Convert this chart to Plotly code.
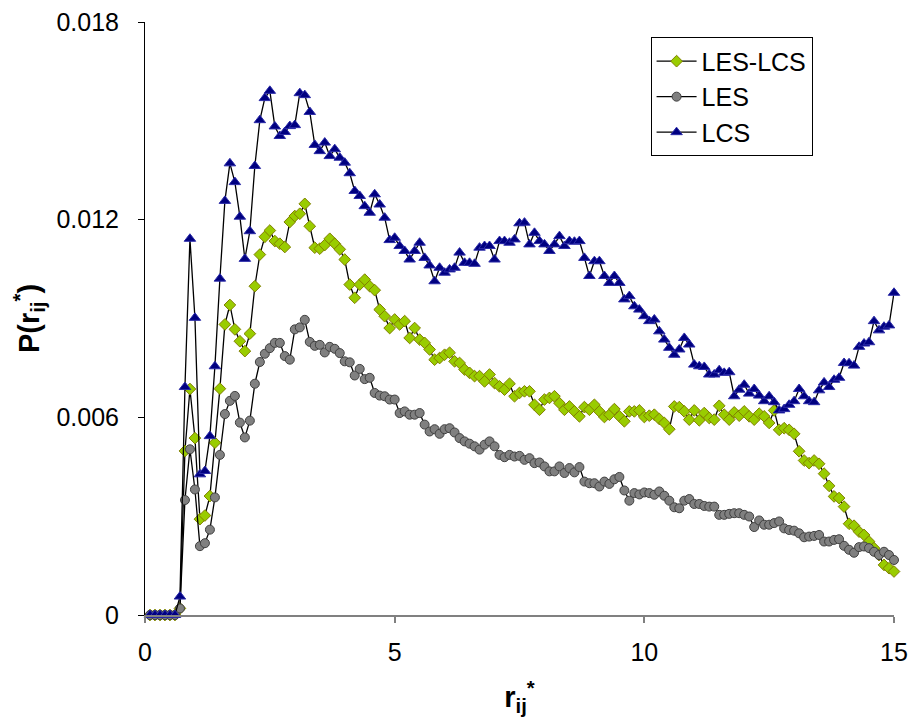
import plotly.graph_objects as go

x_vals = [round(0.1 * (i + 1), 1) for i in range(150)]

les_lcs = [0, 0, 0, 0, 0, 0, 0.0002, 0.00498, 0.00686, 0.00537,
           0.00291, 0.00302, 0.00361, 0.00523, 0.00687, 0.00882, 0.00941, 0.00867, 0.00831, 0.00801,
           0.00854, 0.00998, 0.01094, 0.01148, 0.01167, 0.01135, 0.01127, 0.01117, 0.01193, 0.01211,
           0.01218, 0.01248, 0.0118, 0.01115, 0.01112, 0.01123, 0.01142, 0.01127, 0.0111, 0.01079,
           0.01003, 0.00963, 0.01003, 0.01018, 0.00998, 0.00986, 0.00927, 0.00907, 0.00871, 0.00897,
           0.00882, 0.00892, 0.00841, 0.00871, 0.00836, 0.00826, 0.00806, 0.00775, 0.0078, 0.0079,
           0.00796, 0.0077, 0.00765, 0.00745, 0.00735, 0.00725, 0.00725, 0.00709, 0.0073, 0.00704,
           0.00694, 0.00684, 0.00702, 0.00664, 0.00674, 0.00679, 0.00679, 0.00638, 0.00623, 0.00654,
           0.00659, 0.00664, 0.00643, 0.00623, 0.00633, 0.00618, 0.00603, 0.00631, 0.00623, 0.00638,
           0.00618, 0.00601, 0.00608, 0.00625, 0.00603, 0.00588, 0.00618, 0.00618, 0.00621, 0.00601,
           0.00605, 0.00608, 0.00595, 0.00583, 0.00564, 0.00633, 0.00631, 0.00618, 0.00593, 0.00621,
           0.00591, 0.00613, 0.00598, 0.00593, 0.00635, 0.00608, 0.00593, 0.00615, 0.00605, 0.00618,
           0.00603, 0.00593, 0.00611, 0.00603, 0.00583, 0.00621, 0.00562, 0.00567, 0.00562, 0.0055,
           0.00497, 0.00469, 0.00461, 0.00469, 0.00459, 0.00429, 0.00392, 0.0036, 0.00355, 0.00329,
           0.00277, 0.00271, 0.00253, 0.00243, 0.00223, 0.00203, 0.00182, 0.00152, 0.00142, 0.00132]

les = [0, 0, 0, 0, 0, 0, 0.0002, 0.00349, 0.00503, 0.00381,
       0.00209, 0.00218, 0.00259, 0.00357, 0.00486, 0.0061, 0.0065, 0.00665, 0.00584, 0.00539,
       0.0059, 0.00702, 0.00768, 0.00793, 0.0081, 0.00826, 0.00826, 0.00786, 0.00775, 0.00867,
       0.00873, 0.00896, 0.00829, 0.00817, 0.0082, 0.00797, 0.00814, 0.00808, 0.00795, 0.0077,
       0.00767, 0.00727, 0.00747, 0.00716, 0.0072, 0.00674, 0.00666, 0.00664, 0.00654, 0.00654,
       0.00613, 0.00618, 0.00608, 0.00608, 0.00613, 0.00578, 0.00557, 0.00564, 0.0055, 0.00564,
       0.00567, 0.00554, 0.00537, 0.00527, 0.0052, 0.00512, 0.00502, 0.00517, 0.00527, 0.00512,
       0.00486, 0.00479, 0.00486, 0.00481, 0.00483, 0.00471, 0.00476, 0.00461, 0.00463, 0.00451,
       0.00436, 0.00436, 0.00451, 0.00431, 0.00446, 0.00433, 0.00449, 0.00405, 0.004, 0.004,
       0.0039, 0.00405, 0.00398, 0.00412, 0.00419, 0.00378, 0.00347, 0.0037, 0.00366, 0.00372,
       0.0037, 0.00365, 0.00375, 0.00362, 0.00347, 0.00327, 0.00324, 0.00347, 0.00352, 0.00337,
       0.00337, 0.00331, 0.00329, 0.00329, 0.00304, 0.00304, 0.00307, 0.00309, 0.00309, 0.00304,
       0.00299, 0.00267, 0.00287, 0.00274, 0.00274, 0.00279, 0.00284, 0.00263, 0.00258, 0.00256,
       0.00248, 0.00236, 0.00238, 0.0024, 0.00243, 0.00223, 0.00223, 0.00228, 0.0023, 0.0021,
       0.00198, 0.00189, 0.00206, 0.00208, 0.00203, 0.00192, 0.00182, 0.00192, 0.00182, 0.00167]

lcs = [0, 0, 0, 0, 0, 0, 0.00056, 0.00692, 0.01142, 0.00902,
       0.00427, 0.00437, 0.00543, 0.00755, 0.01021, 0.01257, 0.01371, 0.01314, 0.01209, 0.01081,
       0.01165, 0.01363, 0.01502, 0.01569, 0.01591, 0.01483, 0.01454, 0.01466, 0.01484, 0.01487,
       0.01584, 0.01578, 0.01527, 0.01427, 0.01408, 0.01434, 0.01393, 0.01414, 0.01388, 0.01373,
       0.01341, 0.01287, 0.01272, 0.01241, 0.01221, 0.01277, 0.01246, 0.01206, 0.01138, 0.01145,
       0.0112, 0.01105, 0.01079, 0.01105, 0.0113, 0.01084, 0.01061, 0.01013, 0.01054, 0.01039,
       0.01049, 0.01054, 0.011, 0.01069, 0.01069, 0.01066, 0.01115, 0.0112, 0.0112, 0.01079,
       0.01135, 0.01135, 0.0113, 0.0114, 0.01189, 0.01191, 0.01125, 0.0116, 0.01135, 0.01125,
       0.01105, 0.01125, 0.0115, 0.0112, 0.01135, 0.01133, 0.01135, 0.01084, 0.01029, 0.01074,
       0.01074, 0.01029, 0.01008, 0.01029, 0.01008, 0.00958, 0.00968, 0.00937, 0.00927, 0.00907,
       0.00892, 0.00897, 0.00861, 0.00836, 0.00811, 0.0079, 0.00806, 0.00841, 0.00821, 0.0076,
       0.00755, 0.00753, 0.0073, 0.0073, 0.00743, 0.00735, 0.00737, 0.00664, 0.00684, 0.00699,
       0.00672, 0.00686, 0.00666, 0.00649, 0.00664, 0.00646, 0.00621, 0.00625, 0.00638, 0.00649,
       0.00686, 0.00664, 0.00649, 0.00646, 0.00682, 0.00706, 0.00692, 0.00714, 0.0072, 0.00765,
       0.00764, 0.00757, 0.00814, 0.00824, 0.00828, 0.00892, 0.00864, 0.00875, 0.00879, 0.00978]

y_ticks = [0, 0.006, 0.012, 0.018]
y_tick_text = ["0", "0.006", "0.012", "0.018"]
x_ticks = [0, 5, 10, 15]

FONT = "Liberation Sans, Arial, sans-serif"

fig = go.Figure()
fig.add_trace(go.Scatter(
    x=x_vals, y=les_lcs, name="LES-LCS", mode="lines+markers",
    line=dict(color="black", width=1.3),
    marker=dict(symbol="diamond", size=9, color="#99CC00",
                line=dict(color="#808000", width=1)),
    cliponaxis=False))
fig.add_trace(go.Scatter(
    x=x_vals, y=les, name="LES", mode="lines+markers",
    line=dict(color="black", width=1.3),
    marker=dict(symbol="circle", size=9, color="#808080",
                line=dict(color="#404040", width=1)),
    cliponaxis=False))
fig.add_trace(go.Scatter(
    x=x_vals, y=lcs, name="LCS", mode="lines+markers",
    line=dict(color="black", width=1.3),
    marker=dict(symbol="triangle-up", size=10, color="#000080",
                line=dict(color="#2a2aa8", width=1)),
    cliponaxis=False))

fig.update_layout(
    width=911, height=723,
    margin=dict(l=144.5, r=17, t=22, b=108, autoexpand=False),
    paper_bgcolor="white", plot_bgcolor="white",
    font=dict(family=FONT, color="black"),
    showlegend=True,
    legend=dict(
        x=0.675, y=0.974, xanchor="left", yanchor="top",
        bordercolor="black", borderwidth=1, bgcolor="white",
        font=dict(size=25, family=FONT, color="black"),
        itemwidth=40, tracegroupgap=0,
    ),
    xaxis=dict(
        range=[0, 15], tickvals=x_ticks, ticks="outside", ticklen=6,
        tickcolor="#808080", tickwidth=1.5,
        showline=True, linecolor="#808080", linewidth=2,
        showgrid=False, zeroline=False, automargin=False,
        tickfont=dict(size=25, family=FONT, color="black"),
        ticklabelstandoff=8,
        title=dict(text="<b>r<sub>ij</sub><sup>*</sup></b>",
                   font=dict(size=29, family=FONT, color="black"),
                   standoff=22),
    ),
    yaxis=dict(
        range=[0, 0.018], tickvals=y_ticks, ticktext=y_tick_text,
        ticks="outside", ticklen=6, tickcolor="black", tickwidth=1,
        showline=True, linecolor="black", linewidth=1,
        showgrid=False, zeroline=False, automargin=False,
        tickfont=dict(size=25, family=FONT, color="black"),
        ticklabelstandoff=14,
        title=dict(text="<b>P(r<sub>ij</sub><sup>*</sup>)</b>",
                   font=dict(size=29, family=FONT, color="black"),
                   standoff=8),
    ),
)

fig.write_html("out.html")
